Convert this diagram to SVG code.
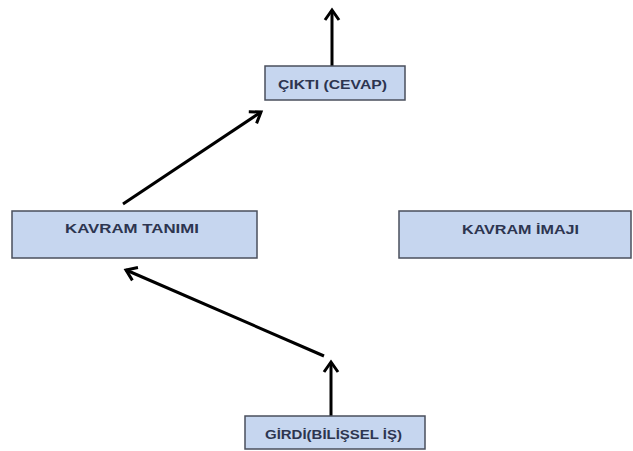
<svg xmlns="http://www.w3.org/2000/svg" width="633" height="451" viewBox="0 0 633 451">
<style>
.box{fill:#c6d6ef;stroke:#4a4f5c;stroke-width:1.5}
.lbl{font-family:"Liberation Sans",Arial,sans-serif;font-size:12px;font-weight:bold;fill:#2d3550;text-anchor:middle}
.conn{stroke:#000;stroke-width:3;fill:none;marker-end:url(#ah)}
</style>
<defs>
<marker id="ah" markerUnits="userSpaceOnUse" markerWidth="20" markerHeight="20" refX="12" refY="10" orient="auto" viewBox="0 0 20 20">
<polyline points="2,3 12,10 2,17" fill="none" stroke="#000" stroke-width="3" stroke-linejoin="miter"/>
</marker>
</defs>
<rect width="633" height="451" fill="#fff"/>
<g id="connectors">
<line class="conn" x1="332" y1="66" x2="332" y2="10"/>
<line class="conn" x1="123" y1="204" x2="261" y2="112"/>
<line class="conn" x1="324" y1="356" x2="126" y2="270"/>
<line class="conn" x1="331" y1="416" x2="331" y2="362"/>
</g>
<g id="cikti">
<rect class="box" x="265" y="66" width="140" height="34"/>
<text class="lbl" x="332.5" y="89" textLength="109" lengthAdjust="spacingAndGlyphs">ÇIKTI (CEVAP)</text>
</g>
<g id="kavram-tanimi">
<rect class="box" x="12" y="211" width="245" height="47"/>
<text class="lbl" x="132" y="233" textLength="134" lengthAdjust="spacingAndGlyphs">KAVRAM  TANIMI</text>
</g>
<g id="kavram-imaji">
<rect class="box" x="399" y="211" width="232" height="47"/>
<text class="lbl" x="520.5" y="234" textLength="117" lengthAdjust="spacingAndGlyphs">KAVRAM  İMAJI</text>
</g>
<g id="girdi">
<rect class="box" x="245" y="416" width="180" height="33"/>
<text class="lbl" x="333.5" y="439" textLength="137" lengthAdjust="spacingAndGlyphs">GİRDİ(BİLİŞSEL İŞ)</text>
</g>
</svg>
